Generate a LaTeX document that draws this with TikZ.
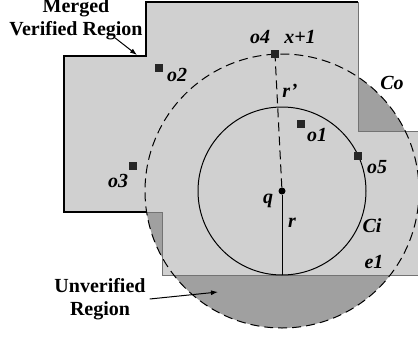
\documentclass[tikz,border=0pt]{standalone}
\usepackage{fontspec}
\setmainfont{Liberation Serif}
\usetikzlibrary{arrows.meta}
\definecolor{verigray}{RGB}{208,208,208}
\definecolor{unvergray}{RGB}{160,160,160}

\begin{document}
\begin{tikzpicture}[x=1pt,y=-1pt,
    obj/.style={fill=black!85,minimum size=8pt,inner sep=0pt},
    lbl/.style={font=\fontsize{20}{23}\selectfont\bfseries\itshape,inner sep=0pt},
    txt/.style={font=\fontsize{20}{23}\selectfont\bfseries,align=center,inner sep=0pt},
    dsh/.style={dash pattern=on 9pt off 5pt,line width=1pt},
    pointer/.style={-{Latex[length=7pt,width=5pt]},line width=1pt}]

    \useasboundingbox (0,0) rectangle (418,338);

    % unverified part of Co
    \fill[unvergray] (282,191) circle (137);

    % merged verified region
    \fill[verigray] (146,2) -- (358,2) -- (358,131) -- (418,131) -- (418,275)
        -- (162,275) -- (162,212) -- (64,212) -- (64,56) -- (146,56) -- cycle;
    \draw[black!55,line width=0.8pt] (146,212) -- (162,212) -- (162,275) -- (418,275);
    \draw[black!55,line width=0.8pt] (358,2) -- (358,131) -- (418,131);
    \draw[line width=1.2pt] (358,2) -- (146,2) -- (146,56) -- (64,56) -- (64,212) -- (146,212);

    % circles
    \draw[dsh] (282,191) circle (137);
    \draw[line width=1pt] (282,191) circle (84);

    % query point and radii
    \node[circle,fill=black,minimum size=7pt,inner sep=0pt] (q) at (282,191) {};
    \coordinate (cibot) at (282,275);

    % objects
    \foreach \n/\x/\y in {o1/301/124,o2/159/68,o3/133/166,o4/275/54,o5/358/156} {
        \node[obj] (\n) at (\x,\y) {};
    }

    \draw[line width=1pt] (q) -- (cibot);
    \draw[dsh] (q) -- (o4);

    % labels
    \foreach \n/\x/\y/\t in {lo1/317/135/o1,lo2/177/75/o2,lo3/118/181/o3,lo4/260/37/o4,
        lo5/377/167/o5,lx/300/37/x+1,lq/268/201/q,lr/292/223/r,lrr/290/91/r',
        lci/372/226/Ci,lco/392/83/Co,le/374/262/e1} {
        \node[lbl] (\n) at (\x,\y) {\t};
    }

    \node[txt] (mvlabel) at (76,19) {Merged\\Verified Region};
    \coordinate (mvtip) at (137,55);
    \draw[pointer] ([xshift=39pt,yshift=2pt]mvlabel.south) -- (mvtip);

    \node[txt] (uvlabel) at (100,299) {Unverified\\Region};
    \coordinate (uvtip) at (218,292);
    \draw[pointer] ([xshift=4pt]uvlabel.east) -- (uvtip);

\end{tikzpicture}
\end{document}
